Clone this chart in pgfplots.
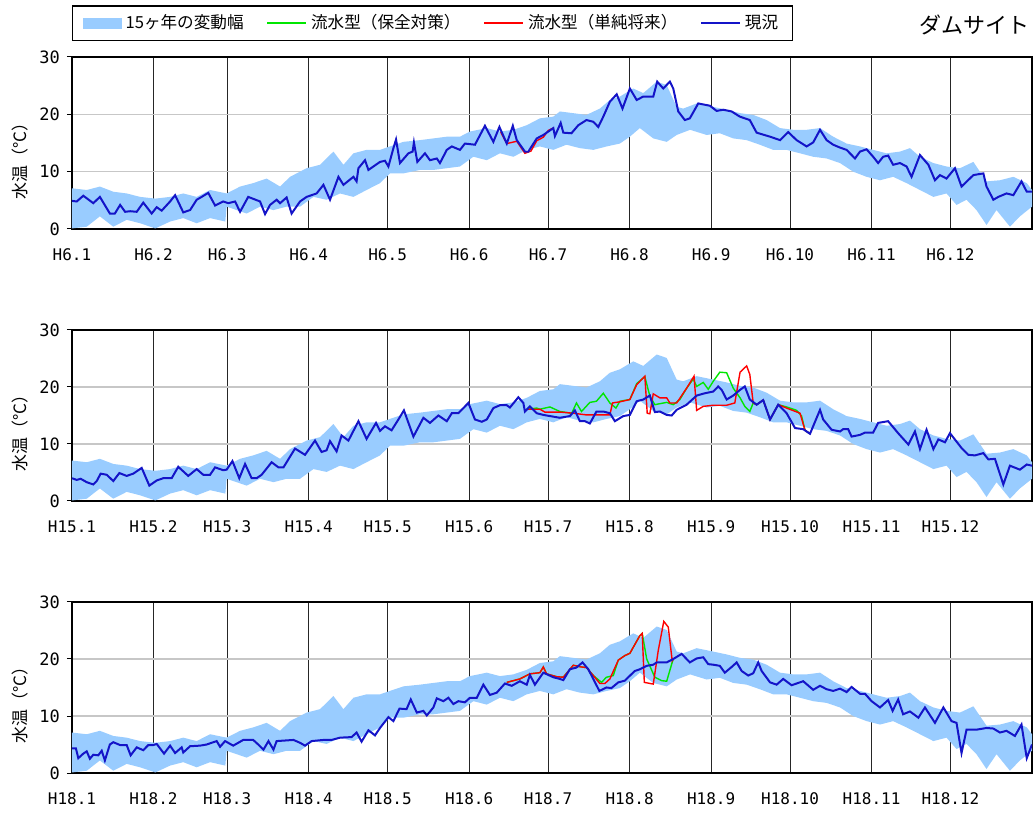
\documentclass[border=0pt]{standalone}
\usepackage{pgfplots}
\pgfplotsset{compat=1.18}
\usepackage{pgfplotstable}
\usepackage{fontspec}
\setmainfont{Noto Sans CJK JP}
\newfontfamily\monofont{DejaVu Sans Mono}
\definecolor{bandblue}{RGB}{153,204,255}
\definecolor{lineblue}{RGB}{20,20,200}
\definecolor{linegreen}{RGB}{0,230,0}
\definecolor{linered}{RGB}{255,0,0}

% 15-year band: upper edge forward, lower edge backward (closed polygon)
\pgfplotstableread{
d t
0 7.1
5.6 6.8
10.6 7.4
15.7 6.5
20.8 6.2
25.9 5.6
31.7 5.3
37.3 5.6
42.3 6.2
47.4 5.6
52.5 6.8
58.8 6.2
63.9 7.4
68.9 8.0
74.0 8.8
79.1 7.4
82.9 9.1
89.2 10.6
94.3 11.2
99.4 13.5
103.2 11.2
107.0 13.2
112.0 13.8
117.1 13.8
120.9 14.4
126.0 15.2
132.3 15.5
137.4 15.8
142.5 16.1
147.5 16.1
151.3 17.0
157.7 17.6
162.7 17.0
167.8 17.3
172.9 18.1
177.9 19.3
183.0 19.6
185.5 20.5
190.6 20.2
195.6 19.9
200.7 21.0
204.5 22.5
208.3 23.1
213.4 24.5
217.2 23.7
222.3 25.7
226.1 25.1
229.9 21.3
232.4 21.0
237.5 21.9
243.8 21.3
248.9 20.8
254.0 20.2
259.0 19.9
264.1 19.0
269.2 17.6
274.2 17.3
279.3 17.3
284.4 17.6
289.4 16.1
294.5 14.9
299.6 14.4
304.6 13.8
309.7 13.2
314.8 13.5
318.6 14.1
322.4 12.6
327.5 11.5
332.5 10.9
337.6 10.6
342.7 11.7
347.7 8.3
352.8 8.5
357.9 9.1
363.0 8.0
365.0 6.8
365.0 3.9
360.4 2.2
356.6 0.4
351.5 3.3
347.7 0.7
343.9 3.3
340.1 5.1
336.3 4.2
332.5 6.2
327.5 5.6
322.4 6.8
317.3 8.0
312.2 9.1
307.2 8.5
302.1 9.1
297.0 10.0
292.0 11.5
286.9 12.3
281.8 12.6
276.8 13.2
271.7 13.8
266.6 13.8
261.5 14.7
256.5 15.5
251.4 15.8
246.3 16.7
241.3 16.4
235.0 17.3
229.9 16.4
226.1 15.2
221.0 15.8
215.9 17.6
212.1 16.1
208.3 14.9
203.3 14.4
198.2 13.8
193.1 14.1
188.0 14.7
183.0 13.8
177.9 14.4
172.9 13.8
167.8 12.6
162.7 13.2
157.7 12.0
152.6 12.6
147.5 10.9
142.5 10.6
137.4 10.3
132.3 10.3
126.0 9.7
120.9 9.7
117.1 8.0
112.0 6.8
107.0 5.6
101.9 6.2
96.8 5.1
91.8 5.6
86.7 3.9
81.6 3.9
76.6 3.3
71.5 3.9
66.4 2.7
58.8 3.9
58.3 1.3
52.5 1.9
47.4 1.0
42.3 1.9
37.3 1.3
31.7 0.1
25.9 1.0
20.8 1.6
15.7 0.4
10.6 2.2
5.6 0.4
0 0.1
}\bandtab

% ---------- H6 ----------
\pgfplotstableread{
d t
0 4.9
1.8 4.8
4.3 5.8
8.1 4.5
10.6 5.6
14.4 2.7
16.3 2.7
18.3 4.2
20.2 3.0
22.1 3.1
24.6 3.0
27.1 4.6
30.3 2.7
32.2 3.8
34.1 3.2
37.3 4.8
39.2 5.9
42.3 2.9
44.9 3.3
47.4 5.1
49.3 5.6
51.8 6.3
54.4 4.1
57.5 4.8
59.4 4.5
62.0 4.8
63.9 3.0
67.0 5.6
71.5 4.8
73.4 2.6
75.3 4.2
77.8 5.1
79.1 4.5
81.6 5.5
83.5 2.7
86.7 4.8
89.2 5.6
93.0 6.2
95.6 7.7
98.1 5.1
101.3 9.1
103.2 7.7
107.0 9.1
108.2 8.3
108.9 10.6
111.4 12.0
112.7 10.3
117.1 11.7
119.0 11.9
120.3 10.9
122.2 14.1
123.2 15.6
124.7 11.5
127.9 13.2
129.5 13.5
130.0 15.1
131.3 11.7
134.2 13.2
136.1 12.0
138.7 12.3
139.9 11.5
142.5 13.8
144.4 14.4
147.5 13.8
149.4 14.9
153.2 14.7
157.0 18.0
160.2 15.2
162.5 17.8
165.3 14.9
167.6 18.0
169.1 15.5
172.2 13.5
173.5 13.5
176.7 15.8
179.2 16.4
181.1 17.0
183.0 17.6
183.6 16.2
185.8 18.5
186.8 16.8
189.9 16.7
192.5 18.1
195.6 19.0
198.2 18.7
200.1 17.8
202.0 19.6
204.5 22.2
207.1 23.5
209.3 21.0
212.1 24.5
214.7 22.5
217.2 23.1
221.0 23.1
222.5 25.7
224.8 24.5
227.3 25.7
228.6 24.5
230.5 20.5
233.0 19.0
234.9 19.3
238.1 21.9
242.5 21.5
245.1 20.6
247.6 20.8
250.8 20.5
253.9 19.6
257.7 19.0
260.3 16.8
265.4 16.1
269.2 15.5
272.3 16.9
275.5 15.5
279.3 14.4
281.8 15.1
284.4 17.3
286.9 15.5
289.4 14.7
292.0 14.2
294.5 13.8
297.7 12.3
299.6 13.5
302.1 13.9
304.6 12.6
306.5 11.5
308.4 12.6
310.3 12.8
312.2 11.2
314.8 11.5
317.3 10.9
319.2 9.1
322.4 12.9
325.6 11.2
328.1 8.5
330.0 9.4
332.5 8.8
335.7 10.6
338.2 7.4
342.7 9.4
346.5 9.7
347.7 7.4
350.3 5.1
352.2 5.6
355.3 6.2
357.9 5.9
361.0 8.3
363.0 6.5
365.0 6.5
}\blueA
\pgfplotstableread{
d t
163.0 16.9
165.3 14.9
169.1 15.3
172.2 13.2
174.5 13.6
176.7 15.4
179.2 16.0
181.1 17.2
183.0 17.6
}\redA

% ---------- H15 ----------
\pgfplotstableread{
d t
0 4.0
1.8 3.7
3.3 3.9
5.6 3.3
8.1 2.9
9.4 3.5
10.9 4.8
13.2 4.6
15.7 3.5
18.0 4.9
20.8 4.4
23.3 4.8
26.5 5.8
29.4 2.7
32.2 3.6
34.7 4.0
37.9 4.0
40.4 6.0
44.2 4.4
47.4 5.6
49.9 4.6
52.5 4.6
54.4 5.9
57.5 5.4
58.8 5.5
61.0 7.0
63.6 4.0
65.8 6.5
68.3 4.0
70.2 4.0
72.1 4.6
75.9 6.8
78.5 5.9
80.4 5.9
84.8 9.2
88.6 8.1
92.4 10.6
94.9 8.6
96.8 8.9
98.1 10.5
100.6 8.7
102.5 11.5
105.1 10.6
108.9 14.0
112.0 10.9
115.6 13.7
117.1 12.3
119.0 13.1
121.5 12.4
124.1 14.3
126.2 15.9
129.8 11.3
133.6 14.6
136.1 13.7
139.3 15.0
142.5 14.0
144.4 15.4
146.9 15.4
150.7 17.2
153.2 14.3
155.8 13.9
157.7 14.3
160.2 16.3
162.7 16.8
165.3 16.8
166.5 16.4
169.7 18.2
171.6 17.2
172.2 15.7
174.1 16.6
176.7 15.4
179.2 15.1
181.7 14.9
185.5 14.6
189.3 14.9
191.2 15.9
193.1 14.0
195.0 14.0
196.9 13.6
199.4 15.7
202.0 15.7
204.5 15.4
206.4 14.0
209.6 14.9
212.1 15.1
214.7 17.5
217.2 17.8
219.7 18.5
221.6 15.6
223.5 15.7
226.1 15.1
228.0 15.0
229.9 16.0
233.7 16.9
237.5 18.5
240.6 18.9
243.8 19.2
245.7 20.1
247.0 19.5
248.9 17.8
251.4 18.5
254.0 19.5
255.8 20.1
257.7 17.8
260.3 16.9
262.8 17.7
265.4 14.3
268.5 16.9
271.7 15.4
274.9 12.8
278.0 12.6
280.6 11.8
284.4 16.0
285.6 14.3
288.8 12.5
292.0 12.2
293.2 12.6
295.1 12.6
296.4 11.3
299.6 11.6
301.5 12.0
304.6 12.0
306.5 13.7
310.3 14.0
314.1 11.9
318.0 9.9
320.5 12.2
322.4 9.1
324.9 12.5
327.5 9.1
329.4 10.8
331.9 10.3
333.8 11.9
338.2 9.3
340.8 8.1
343.3 8.0
346.5 8.4
348.4 7.3
350.9 7.4
354.1 2.9
356.6 6.2
360.4 5.5
363.0 6.4
365.0 6.2
}\blueB
\pgfplotstableread{
d t
172.9 16.1
177.9 16.1
179.8 15.6
181.7 15.6
185.5 15.6
190.6 15.4
195.6 15.1
204.5 15.1
205.5 17.2
208.3 17.4
212.1 17.8
214.7 20.4
217.8 21.9
218.7 15.4
219.7 15.3
221.0 18.8
223.5 18.1
226.1 18.1
227.3 17.2
229.9 17.2
233.7 19.8
236.5 21.9
237.5 15.9
240.0 16.6
243.8 16.8
248.9 16.8
252.0 17.2
254.0 22.6
256.5 23.7
257.7 22.2
259.0 17.2
260.3 16.9
262.8 17.7
265.4 14.3
268.5 16.9
271.7 16.3
276.8 15.4
278.7 12.4
280.6 11.8
}\redB
\pgfplotstableread{
d t
172.9 16.1
176.7 16.3
177.9 16.1
181.7 16.5
185.5 15.7
190.0 15.4
191.8 17.2
193.7 15.7
196.9 17.3
199.4 17.5
202.0 18.9
204.5 17.2
206.8 16.3
208.3 17.5
212.1 17.8
214.7 20.6
217.8 21.8
219.7 18.4
221.6 16.9
226.1 17.3
228.6 16.9
231.1 17.8
233.7 19.8
236.2 21.4
237.5 20.1
240.0 20.8
241.9 19.6
243.8 21.0
246.3 22.6
248.9 22.5
251.4 19.8
254.0 18.1
255.8 16.6
257.7 15.7
259.0 17.2
260.3 16.9
262.8 17.7
265.4 14.3
268.5 16.9
271.7 16.5
275.5 15.9
277.4 14.9
278.7 12.4
280.6 11.8
}\greenB

% ---------- H18 ----------
\pgfplotstableread{
d t
0 4.3
1.5 4.3
2.4 2.6
4.3 3.4
5.6 3.8
6.8 2.5
8.1 3.2
10.0 3.1
11.3 3.9
12.5 2.2
14.4 5.0
15.7 5.4
18.3 4.9
20.8 4.9
22.3 3.1
24.6 4.5
27.1 4.0
29.0 4.9
30.9 4.9
32.2 5.1
35.0 3.4
37.3 4.8
39.2 3.5
41.7 4.5
42.3 3.6
44.9 4.7
48.7 4.8
51.2 5.0
55.0 5.6
56.3 4.6
58.2 5.6
61.3 4.8
65.1 5.8
68.9 5.8
70.8 5.0
72.8 4.1
74.7 5.6
76.6 4.1
77.8 5.6
84.2 5.8
86.7 5.3
88.6 4.8
91.1 5.6
95.6 5.8
98.7 5.8
101.9 6.2
106.3 6.3
108.2 7.1
110.1 5.5
112.7 7.5
115.2 6.6
117.1 7.9
120.3 9.8
122.2 9.1
124.5 11.3
127.2 11.2
128.8 12.9
131.1 10.6
133.6 10.9
134.9 10.1
137.4 11.5
138.7 13.1
141.2 12.6
143.1 13.2
145.0 12.1
146.9 12.6
149.4 12.4
151.3 13.2
153.9 13.2
156.4 15.5
158.9 13.7
161.5 14.1
164.6 15.7
167.2 15.3
170.3 16.1
172.9 15.5
174.1 17.2
176.0 15.5
179.2 17.6
183.0 16.8
185.5 16.5
186.8 16.3
189.3 18.2
191.8 18.5
194.1 19.4
196.3 18.2
198.2 16.5
200.5 14.4
203.2 15.0
205.1 14.9
207.7 15.9
210.2 16.2
211.5 16.8
214.0 17.9
215.9 18.2
218.5 18.8
221.0 19.0
222.3 19.4
226.1 19.4
228.6 20.0
231.8 20.9
234.9 19.4
237.5 20.1
240.0 20.3
241.9 19.1
243.8 19.0
246.3 18.8
248.2 17.6
250.8 18.6
252.7 19.4
254.6 17.9
257.1 17.1
259.0 17.5
260.9 19.4
262.2 17.9
265.4 15.9
267.9 15.5
270.4 16.5
273.6 15.4
278.0 16.1
281.8 14.6
284.4 15.3
286.9 14.7
289.4 14.4
292.0 14.8
294.5 14.2
296.4 15.1
299.6 13.9
301.5 13.9
304.0 12.6
307.2 11.5
310.3 12.8
312.0 10.9
314.1 12.9
316.0 10.3
318.6 10.8
321.8 9.7
324.3 11.5
328.1 8.8
331.3 11.5
334.4 9.1
336.3 8.8
338.2 3.5
340.1 7.6
343.9 7.6
347.7 7.9
350.3 7.8
352.8 7.1
355.3 7.4
358.5 6.5
361.0 8.5
363.0 2.6
365.0 5.0
}\blueC
\pgfplotstableread{
d t
165.3 15.9
170.3 16.5
174.1 17.4
177.9 17.6
179.2 18.6
180.4 17.4
184.2 16.9
186.8 16.8
190.6 18.9
193.7 18.6
195.6 18.5
198.2 17.1
200.7 15.7
202.6 15.7
204.5 16.5
207.7 19.8
210.2 20.6
212.1 21.0
215.9 24.1
216.8 24.5
217.6 15.9
221.0 15.6
222.9 21.5
225.0 26.6
226.7 25.6
228.2 19.7
228.6 20.0
}\redC
\pgfplotstableread{
d t
165.3 15.9
170.3 16.5
174.1 17.4
177.9 17.6
179.2 18.6
180.4 17.4
184.2 16.9
186.8 16.8
190.6 18.9
193.7 18.6
195.6 18.5
198.2 17.1
201.3 15.9
203.2 16.8
205.8 17.1
207.7 19.8
210.2 20.6
212.1 21.0
215.9 24.1
216.8 24.5
218.5 20.0
221.6 16.8
224.2 16.2
226.1 16.1
228.0 19.1
228.6 20.0
}\greenC

\pgfplotsset{
 panel/.style={
  scale only axis, width=480pt,
  xmin=0, xmax=365, ymin=0, ymax=30,
  ytick={0,10,20,30},
  xtick={0,31,59,90,120,151,181,212,243,273,304,334},
  xmajorgrids, ymajorgrids,
  x grid style={black!85, line width=0.5pt},
  y grid style={black!22, line width=0.8pt},
  axis line style={black, line width=0.8pt},
  tick align=outside, major tick length=2.5pt,
  tick style={black, line width=0.5pt},
  xtick style={draw=none},
  /pgf/number format/assume math mode=true,
  yticklabel style={font=\monofont\fontsize{8.5pt}{10pt}\selectfont},
  xticklabel style={font=\monofont\fontsize{8pt}{10pt}\selectfont, yshift=-4pt},
  ylabel={水温（°C）},
  ylabel style={at={(axis description cs:-0.054,0.42)}, anchor=center, font=\fontsize{8.5pt}{10pt}\selectfont},
 },
 blueline/.style={lineblue, line width=1pt},
 redline/.style={linered, line width=0.7pt},
 greenline/.style={linegreen, line width=0.7pt},
}

\begin{document}
\begin{tikzpicture}
\path[use as bounding box] (0,0) rectangle (516.5pt,407pt);

\begin{axis}[panel, at={(36pt,292.5pt)}, anchor=south west, height=86pt,
  xticklabels={H6.1,H6.2,H6.3,H6.4,H6.5,H6.6,H6.7,H6.8,H6.9,H6.10,H6.11,H6.12},
  title={ダムサイト},
  title style={at={(1,1)}, anchor=east, yshift=10pt, xshift=-1pt, inner sep=0pt, font=\fontsize{11pt}{13pt}\selectfont},
  legend style={at={(0,1)}, anchor=south west, yshift=8pt, legend columns=4, draw=black, line width=0.6pt,
    font=\fontsize{8.3pt}{9.8pt}\selectfont, inner xsep=5pt, inner ysep=2.3pt,
    /tikz/every even column/.append style={column sep=9.5pt}},
  legend image code/.code={\draw[#1, line width=0.75pt] (0pt,0pt) -- (19.5pt,0pt);},
]
\addplot[fill=bandblue, draw=none,
  legend image code/.code={\fill[bandblue] (2pt,-2.75pt) rectangle (21.5pt,2.75pt);}] table {\bandtab};
\addlegendimage{linegreen}
\addplot[redline] table {\redA};
\addplot[blueline] table {\blueA};
\legend{15ヶ年の変動幅, 流水型（保全対策）, 流水型（単純将来）, 現況}
\end{axis}

\begin{axis}[panel, at={(36pt,156.5pt)}, anchor=south west, height=85.5pt,
  xticklabels={H15.1,H15.2,H15.3,H15.4,H15.5,H15.6,H15.7,H15.8,H15.9,H15.10,H15.11,H15.12},
]
\addplot[fill=bandblue, draw=none] table {\bandtab};
\addplot[greenline] table {\greenB};
\addplot[redline] table {\redB};
\addplot[blueline] table {\blueB};
\end{axis}

\begin{axis}[panel, at={(36pt,20.5pt)}, anchor=south west, height=85.5pt,
  xticklabels={H18.1,H18.2,H18.3,H18.4,H18.5,H18.6,H18.7,H18.8,H18.9,H18.10,H18.11,H18.12},
]
\addplot[fill=bandblue, draw=none] table {\bandtab};
\addplot[greenline] table {\greenC};
\addplot[redline] table {\redC};
\addplot[blueline] table {\blueC};
\end{axis}
\end{tikzpicture}
\end{document}
